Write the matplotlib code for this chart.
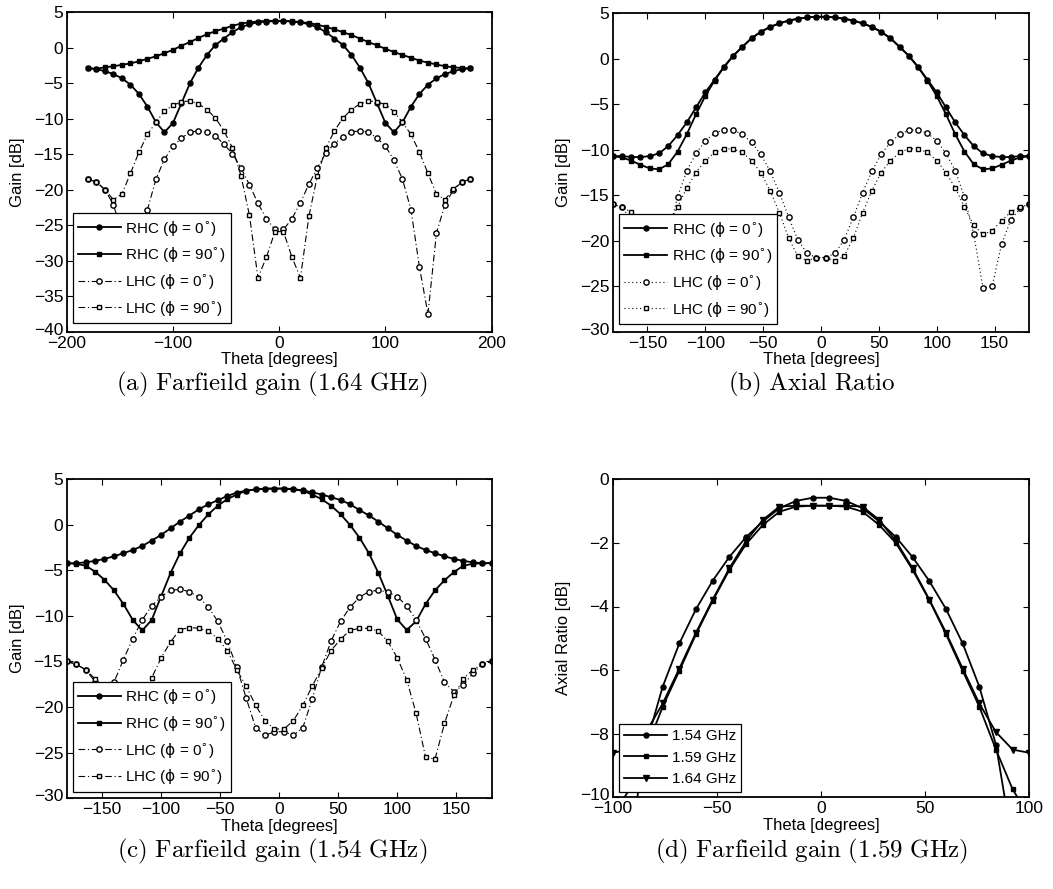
import matplotlib
matplotlib.use("Agg")
import matplotlib.pyplot as plt
import matplotlib.transforms as mtransforms

plt.rcParams['font.family'] = ['Liberation Sans', 'DejaVu Sans']
plt.rcParams['font.size'] = 12

# theta grid (degrees)
theta = [-180, -172, -164, -156, -148, -140, -132, -124, -116, -108, -100, -92,
         -84, -76, -68, -60, -52, -44, -36, -28, -20, -12, -4, 4, 12, 20, 28, 36,
         44, 52, 60, 68, 76, 84, 92, 100, 108, 116, 124, 132, 140, 148, 156, 164,
         172, 180]

# (a) 1.64 GHz
rhc0_a = [-2.9, -3.0, -3.3, -3.7, -4.3, -5.2, -6.5, -8.3, -10.5, -11.9, -10.6, -7.8,
          -5.0, -2.8, -1.0, 0.4, 1.3, 2.2, 2.9, 3.3, 3.6, 3.7, 3.75, 3.75, 3.7, 3.6, 3.3, 2.9,
          2.2, 1.3, 0.4, -1.0, -2.8, -5.0, -7.8, -10.6, -11.9, -10.5, -8.3, -6.5, -5.2, -4.3,
          -3.7, -3.3, -3.0, -2.9]
rhc90_a = [-2.9, -2.95, -2.75, -2.6, -2.4, -2.2, -1.9, -1.55, -1.2, -0.75, -0.3, 0.3,
           0.8, 1.4, 1.9, 2.35, 2.7, 3.1, 3.4, 3.6, 3.7, 3.8, 3.8, 3.8, 3.75, 3.6, 3.5, 3.25,
           2.95, 2.6, 2.2, 1.8, 1.3, 0.8, 0.35, -0.15, -0.6, -1.0, -1.4, -1.8, -2.1, -2.35,
           -2.6, -2.75, -2.85, -2.9]
lhc0_a = [-18.5, -18.9, -20.0, -22.1, -26.1, -37.5, -30.9, -22.8, -18.5, -15.7, -13.9, -12.7,
          -11.9, -11.7, -11.85, -12.4, -13.6, -14.9, -16.9, -19.3, -21.9, -24.1, -25.6, -25.6,
          -24.1, -21.8, -19.2, -16.9, -14.8, -13.5, -12.5, -11.85, -11.7, -11.9, -12.7, -13.9,
          -15.8, -18.5, -22.8, -30.9, -37.5, -26.1, -22.1, -20.0, -18.9, -18.5]
lhc90_a = [-18.5, -18.9, -20.0, -21.4, -20.6, -17.7, -14.7, -12.2, -10.5, -8.9, -8.1, -7.6,
           -7.5, -7.9, -8.7, -9.9, -11.7, -14.1, -18.0, -23.6, -32.4, -29.5, -25.9, -25.9,
           -29.5, -32.4, -23.7, -18.0, -14.1, -11.7, -9.9, -8.7, -7.9, -7.5, -7.6, -8.0,
           -9.0, -10.5, -12.2, -14.7, -17.7, -20.6, -21.4, -19.9, -18.9, -18.5]

# (b)
rhc0_b = [-10.7, -10.7, -10.8, -10.8, -10.7, -10.4, -9.6, -8.4, -7.0, -5.35, -3.7, -2.3,
          -0.9, 0.33, 1.3, 2.27, 2.97, 3.5, 3.9, 4.2, 4.4, 4.55, 4.62, 4.62, 4.55, 4.4, 4.2, 3.9,
          3.5, 2.97, 2.27, 1.3, 0.33, -0.9, -2.3, -3.7, -5.35, -7.0, -8.4, -9.6, -10.4, -10.7,
          -10.8, -10.8, -10.7, -10.7]
rhc90_b = [-10.7, -10.85, -11.2, -11.65, -12.05, -12.15, -11.6, -10.2, -8.3, -6.1, -4.1, -2.4,
           -0.95, 0.3, 1.3, 2.25, 2.95, 3.5, 3.88, 4.2, 4.4, 4.55, 4.62, 4.62, 4.55, 4.4, 4.2, 3.88,
           3.5, 2.95, 2.25, 1.3, 0.3, -0.95, -2.4, -4.1, -6.1, -8.3, -10.2, -11.6, -12.15, -12.05,
           -11.65, -11.2, -10.85, -10.7]
lhc0_b = [-16.0, -16.3, -17.7, -20.4, -24.95, -25.2, -19.3, -15.2, -12.3, -10.4, -9.0, -8.2,
          -7.8, -7.85, -8.3, -9.2, -10.5, -12.35, -14.7, -17.4, -19.9, -21.4, -21.85, -21.85,
          -21.4, -19.9, -17.4, -14.7, -12.35, -10.5, -9.2, -8.3, -7.85, -7.8, -8.2, -9.0,
          -10.4, -12.3, -15.2, -19.3, -25.2, -24.95, -20.4, -17.7, -16.45, -16.0]
lhc90_b = [-16.0, -16.3, -16.85, -17.8, -18.9, -19.3, -18.3, -16.3, -14.2, -12.5, -11.2, -10.3,
           -9.9, -9.9, -10.3, -11.2, -12.5, -14.5, -16.9, -19.7, -21.7, -22.2, -21.85, -21.85,
           -22.2, -21.7, -19.7, -16.9, -14.5, -12.5, -11.2, -10.3, -9.9, -9.9, -10.3, -11.2,
           -12.5, -14.2, -16.3, -18.3, -19.3, -18.9, -17.8, -16.85, -16.3, -16.0]

# (c) 1.54 GHz
rhc0_c = [-4.24, -4.24, -4.13, -3.98, -3.76, -3.47, -3.14, -2.78, -2.34, -1.75, -1.13, -0.4,
          0.33, 0.99, 1.68, 2.23, 2.67, 3.14, 3.5, 3.73, 3.85, 3.92, 3.95, 3.95, 3.9, 3.75, 3.54,
          3.3, 3.0, 2.7, 2.23, 1.6, 1.0, 0.33, -0.4, -1.13, -1.75, -2.34, -2.78, -3.14, -3.47,
          -3.76, -3.98, -4.13, -4.24, -4.24]
rhc90_c = [-4.2, -4.3, -4.5, -5.15, -6.05, -7.2, -8.7, -10.45, -11.6, -10.45, -7.85, -5.3,
           -3.14, -1.43, -0.04, 1.13, 2.08, 2.78, 3.3, 3.7, 3.87, 3.95, 3.95, 3.95, 3.87, 3.7,
           3.3, 2.78, 2.08, 1.13, -0.04, -1.43, -3.14, -5.3, -7.8, -10.4, -11.55, -10.6, -8.7,
           -7.2, -6.1, -5.2, -4.5, -4.3, -4.24, -4.2]
lhc0_c = [-15.0, -15.3, -15.9, -17.2, -18.3, -17.3, -14.8, -12.5, -10.45, -8.9, -7.9, -7.2,
          -7.1, -7.35, -7.96, -9.06, -10.6, -12.8, -15.6, -19.0, -22.25, -23.1, -22.7, -22.7,
          -23.1, -22.25, -19.1, -15.6, -12.75, -10.6, -9.06, -7.96, -7.34, -7.2, -7.4, -7.9,
          -8.9, -10.45, -12.5, -14.8, -17.3, -18.3, -17.6, -16.3, -15.3, -15.0]
lhc90_c = [-15.0, -15.3, -15.9, -16.9, -18.7, -21.8, -25.7, -25.5, -20.7, -16.8, -14.6, -12.85,
           -11.5, -11.3, -11.35, -11.7, -12.5, -13.8, -15.9, -17.7, -19.8, -21.5, -22.4, -22.4,
           -21.5, -19.8, -17.7, -15.7, -13.8, -12.55, -11.6, -11.36, -11.36, -11.7, -12.8, -14.6,
           -17.0, -20.7, -25.5, -25.7, -21.8, -18.7, -16.9, -15.9, -15.3, -15.0]

# (d) axial ratio
theta_d = [-100, -92, -84, -76, -68, -60, -52, -44, -36, -28, -20, -12, -4,
           4, 12, 20, 28, 36, 44, 52, 60, 68, 76, 84, 92, 100]
ar_154 = [-14.0, -11.5, -8.35, -6.52, -5.16, -4.08, -3.19, -2.44, -1.82, -1.33, -0.91, -0.68, -0.58,
          -0.58, -0.68, -0.91, -1.33, -1.82, -2.45, -3.2, -4.08, -5.16, -6.52, -8.35, -11.5, -14.0]
ar_159 = [-10.6, -9.75, -8.5, -7.15, -6.02, -4.87, -3.82, -2.85, -2.04, -1.44, -1.02, -0.86, -0.83,
          -0.83, -0.86, -1.02, -1.44, -2.01, -2.85, -3.8, -4.87, -6.02, -7.15, -8.5, -9.75, -10.6]
ar_164 = [-8.6, -8.5, -7.95, -7.05, -5.95, -4.82, -3.78, -2.8, -1.95, -1.28, -0.86, -0.83, -0.83,
          -0.83, -0.83, -0.86, -1.28, -1.95, -2.8, -3.78, -4.82, -5.95, -7.05, -7.95, -8.5, -8.6]

labels = [r'RHC ($\mathrm{\phi}$ = 0$^{\circ}$)', r'RHC ($\mathrm{\phi}$ = 90$^{\circ}$)',
          r'LHC ($\mathrm{\phi}$ = 0$^{\circ}$)', r'LHC ($\mathrm{\phi}$ = 90$^{\circ}$)']

W, H = 1053, 889
fig = plt.figure(figsize=(W / 100, H / 100), dpi=100)

def box(l, t, r, b):
    return [l / W, 1 - b / H, (r - l) / W, (b - t) / H]

ax_a = fig.add_axes(box(66.7, 12.3, 491.7, 331.7))
ax_b = fig.add_axes(box(612.7, 13.3, 1029.3, 331.7))
ax_c = fig.add_axes(box(66.7, 479.0, 491.7, 798.3))
ax_d = fig.add_axes(box(612.7, 479.3, 1029.3, 797.3))

dashdot = (0, (6, 2.5, 1, 2.5))
dotted = (0, (1, 2.5))


def gain_panel(ax, r0, r90, l0, l90, lstyle):
    ax.plot(theta, r0, '-', color='k', lw=1.3, marker='o', ms=3.6, mfc='k', label=labels[0])
    ax.plot(theta, r90, '-', color='k', lw=1.3, marker='s', ms=3.4, mfc='k', label=labels[1])
    ax.plot(theta, l0, linestyle=lstyle, color='k', lw=0.8, marker='o', ms=3.8,
            mfc='white', mew=1.0, label=labels[2])
    ax.plot(theta, l90, linestyle=lstyle, color='k', lw=0.8, marker='s', ms=3.5,
            mfc='white', mew=1.0, label=labels[3])


gain_panel(ax_a, rhc0_a, rhc90_a, lhc0_a, lhc90_a, dashdot)
gain_panel(ax_b, rhc0_b, rhc90_b, lhc0_b, lhc90_b, dotted)
gain_panel(ax_c, rhc0_c, rhc90_c, lhc0_c, lhc90_c, dashdot)

ax_d.plot(theta_d, ar_154, '-', color='k', lw=1.3, marker='o', ms=3.6, label='1.54 GHz')
ax_d.plot(theta_d, ar_159, '-', color='k', lw=1.3, marker='s', ms=3.4, label='1.59 GHz')
ax_d.plot(theta_d, ar_164, '-', color='k', lw=1.3, marker='v', ms=4.2, label='1.64 GHz')

ax_a.set_xlim(-200, 200)
ax_a.set_xticks([-200, -100, 0, 100, 200])
ax_a.set_ylim(-40, 5)
ax_a.set_yticks(range(-40, 6, 5))

for ax in (ax_b, ax_c):
    ax.set_xlim(-180, 180)
    ax.set_xticks([-150, -100, -50, 0, 50, 100, 150])
    ax.set_ylim(-30, 5)
    ax.set_yticks(range(-30, 6, 5))

ax_d.set_xlim(-100, 100)
ax_d.set_xticks([-100, -50, 0, 50, 100])
ax_d.set_ylim(-10, 0)
ax_d.set_yticks(range(-10, 1, 2))

# nudge the lowest y tick label up a little so it clears the x tick labels
lift = mtransforms.ScaledTranslation(0, 3 / 100, fig.dpi_scale_trans)

for ax in (ax_a, ax_b, ax_c, ax_d):
    ax.tick_params(direction='in', top=True, right=True, length=4, width=0.8,
                   labelsize=12.5, pad=2.5)
    ax.tick_params(axis='x', pad=3)
    for s in ax.spines.values():
        s.set_linewidth(1.3)
    ax.set_xlabel('Theta [degrees]', fontsize=12, labelpad=1)
    ax.set_ylabel('Gain [dB]', fontsize=12, labelpad=6)
    fig.canvas.draw()
    lab = ax.get_yticklabels()[0]
    lab.set_transform(lab.get_transform() + lift)
ax_d.set_ylabel('Axial Ratio [dB]', fontsize=12, labelpad=6)

leg_kw = dict(loc='lower left', fontsize=11, frameon=True, fancybox=False,
              framealpha=1, edgecolor='k', borderaxespad=0, handlelength=2.8,
              handletextpad=0.3, labelspacing=0.5, borderpad=0.35)
for ax, anchor in ((ax_a, (0.014, 0.027)), (ax_b, (0.015, 0.024)),
                   (ax_c, (0.014, 0.021)), (ax_d, (0.015, 0.018))):
    lg = ax.legend(bbox_to_anchor=anchor, **leg_kw)
    lg.get_frame().set_linewidth(0.9)

captions = [(272, 384, r'$\mathrm{(a)\ Farfieild\ gain\ (1.64\ GHz)}$'),
            (812, 384, r'$\mathrm{(b)\ Axial\ Ratio}$'),
            (272, 851, r'$\mathrm{(c)\ Farfieild\ gain\ (1.54\ GHz)}$'),
            (812, 851, r'$\mathrm{(d)\ Farfieild\ gain\ (1.59\ GHz)}$')]
for cx, cy, txt in captions:
    fig.text(cx / W, 1 - cy / H, txt, ha='center', va='center', fontsize=18,
             math_fontfamily='cm')

fig.savefig('out.png', dpi=100)
